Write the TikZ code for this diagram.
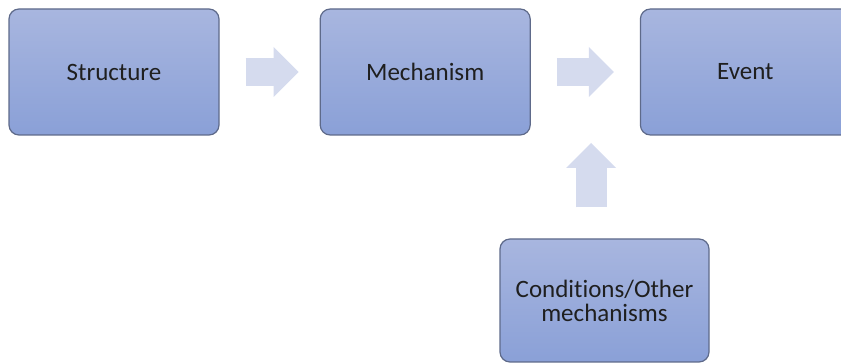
\documentclass[tikz,border=0pt]{standalone}
\usepackage{fontspec}
\setmainfont{Carlito}[Ligatures=NoCommon]
\usetikzlibrary{positioning,arrows.meta}

\definecolor{boxtop}{HTML}{A8B6DF}
\definecolor{boxbottom}{HTML}{8AA0D7}
\definecolor{boxline}{HTML}{5E6A8A}
\definecolor{flowfill}{HTML}{D5DBEE}

\tikzset{
    stage/.style={draw=boxline, line width=0.6pt, rounded corners=5pt,
        top color=boxtop, bottom color=boxbottom,
        minimum width=105pt, minimum height=63pt, align=center,
        font=\fontsize{12.5}{12}\selectfont, text=black!88},
    flow/.style={draw=flowfill, line width=14pt,
        -{Triangle[width=25pt, length=12.5pt, line width=0pt]}}
}

\begin{document}
\begin{tikzpicture}[x=0.5pt, y=-0.5pt]
    \useasboundingbox (0,0) rectangle (841,363);
    \clip (0,0) rectangle (841,363);

    % top row
    \node[stage] (struct) at (114,72) {Structure};
    \node[stage, right=50pt of struct] (mech) {Mechanism};
    \node[stage, right=54.5pt of mech] (event) {Event};

    % bottom box
    \node[stage, minimum width=104.5pt, minimum height=61.5pt] (cond) at (604.5,300.5) {Conditions/Other\\mechanisms};
    \coordinate (uptip) at (591,143);

    % block arrows
    \draw[flow, shorten <=13pt, shorten >=10.5pt] (struct) -- (mech);
    \draw[flow, shorten <=13pt, shorten >=13pt] (mech) -- (event);
    \draw[flow, line width=15.5pt] ([yshift=15.5pt]cond.north -| uptip) -- (uptip);
\end{tikzpicture}
\end{document}
